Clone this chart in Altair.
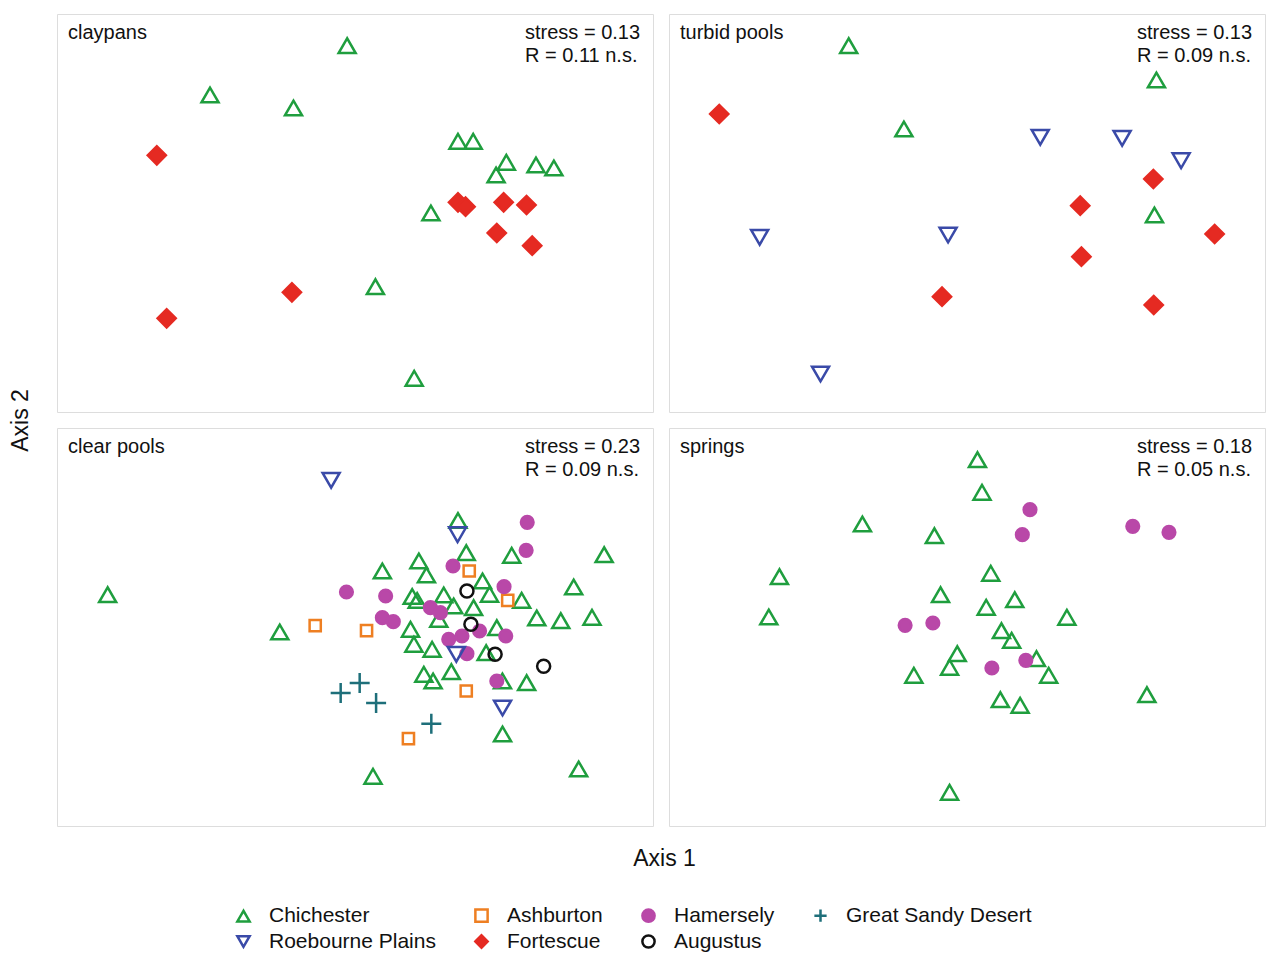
import altair as alt
import pandas as pd

groups = ["Chichester", "Ashburton", "Hamersely", "Great Sandy Desert",
          "Roebourne Plains", "Fortescue", "Augustus"]
stroke_colors = ["#1f9e3e", "#ee7f22", "#b948a8", "#1e6f7a", "#3a4aa8", "#e52a22", "#111111"]
fill_colors = ["transparent", "transparent", "#b948a8", "transparent",
               "transparent", "#e52a22", "transparent"]
plus_path = "M-1,0H1M0,-1V1"
shapes = ["triangle-up", "square", "circle", plus_path, "triangle-down", "diamond", "circle"]
marker_sizes = {"Chichester": 290, "Ashburton": 125, "Hamersely": 160,
                "Great Sandy Desert": 400, "Roebourne Plains": 290, "Fortescue": 330,
                "Augustus": 170}

panels = ["claypans", "turbid pools", "clear pools", "springs"]
stats = ["stress = 0.13\nR = 0.11 n.s.", "stress = 0.13\nR = 0.09 n.s.",
         "stress = 0.23\nR = 0.09 n.s.", "stress = 0.18\nR = 0.05 n.s."]

# claypans
clay_chi_x = [291.6, 153.8, 237.7, 403.0, 418.3, 451.6, 481.4, 499.4, 441.3, 375.8, 320.0, 359.0]
clay_chi_y = [31.7, 81.0, 94.0, 127.3, 127.3, 148.3, 151.0, 154.0, 161.0, 199.0, 272.7, 364.3]
clay_for_x = [100.3, 403.0, 410.6, 448.9, 471.9, 442.0, 477.6, 236.1, 110.2]
clay_for_y = [141.3, 188.3, 192.7, 188.3, 191.0, 219.0, 231.7, 278.3, 304.3]

# turbid pools
turb_chi_x = [180.6, 489.9, 236.1, 487.9]
turb_chi_y = [31.7, 66.0, 115.0, 201.0]
turb_roe_x = [373.1, 455.4, 514.7, 91.1, 280.5, 152.3]
turb_roe_y = [123.3, 124.3, 146.7, 223.3, 221.0, 360.0]
turb_for_x = [50.5, 486.8, 413.3, 548.4, 414.5, 274.4, 487.2]
turb_for_y = [100.0, 165.0, 191.7, 220.0, 242.7, 282.7, 291.0]

# clear pools
clear_chi_x = [50.9, 223.9, 549.9, 519.3, 537.7, 506.3, 482.2, 317.6, 524.3, 447.8,
               403.0, 411.3, 457.0, 363.7, 327.0, 371.3, 427.7, 434.7, 467.0, 357.0,
               362.0, 388.7, 398.7, 418.7, 383.7, 355.3, 442.0, 358.7, 377.0, 431.3,
               368.7, 378.0, 396.3, 447.7, 472.0]
clear_chi_y = [166.7, 204.0, 126.7, 159.0, 189.3, 192.7, 190.0, 348.3, 341.0, 306.0,
               92.5, 124.7, 127.3, 133.0, 143.0, 147.0, 153.0, 166.3, 172.3, 168.5,
               172.5, 167.0, 178.0, 179.7, 191.3, 201.3, 199.7, 216.3, 221.3, 224.7,
               246.3, 253.0, 243.7, 253.0, 254.7]
clear_roe_x = [275.5, 402.6, 401.3, 447.8]
clear_roe_y = [52.3, 106.7, 226.3, 280.0]
clear_ash_x = [259.5, 311.1, 414.3, 453.0, 411.3, 353.2]
clear_ash_y = [197.7, 202.7, 143.0, 172.3, 263.0, 310.7]
clear_ham_x = [290.9, 472.6, 471.5, 398.0, 449.3, 330.3, 375.3, 385.3, 327.0, 338.0,
               424.7, 451.0, 393.7, 407.0, 412.0, 442.0]
clear_ham_y = [164.0, 94.3, 122.3, 138.0, 158.7, 168.0, 179.7, 184.7, 189.7, 193.7,
               203.0, 208.0, 211.3, 208.0, 225.7, 253.0]
clear_aug_x = [412.0, 416.0, 440.3, 489.1]
clear_aug_y = [163.0, 196.3, 226.3, 238.3]
clear_gsd_x = [285.1, 304.2, 320.7, 376.2]
clear_gsd_y = [265.0, 255.0, 275.0, 295.7]

# springs
spr_chi_x = [310.0, 314.6, 194.4, 266.7, 111.0, 323.4, 272.9, 347.5, 318.8, 100.3, 399.9,
             334.1, 344.4, 289.7, 282.0, 369.3, 246.1, 381.6, 333.0, 352.9, 480.3, 282.0]
spr_chi_y = [31.7, 64.3, 96.0, 107.7, 148.7, 145.3, 166.7, 171.7, 179.3, 189.0, 189.3,
             202.7, 212.3, 225.7, 239.3, 230.7, 247.3, 247.3, 271.7, 277.3, 266.7, 364.3]
spr_ham_x = [362.8, 355.1, 466.1, 502.5, 237.3, 265.2, 324.5, 358.6]
spr_ham_y = [81.7, 106.7, 98.3, 104.3, 197.3, 195.0, 240.0, 232.3]

series = [
    ("claypans", "Chichester", clay_chi_x, clay_chi_y),
    ("claypans", "Fortescue", clay_for_x, clay_for_y),
    ("turbid pools", "Chichester", turb_chi_x, turb_chi_y),
    ("turbid pools", "Roebourne Plains", turb_roe_x, turb_roe_y),
    ("turbid pools", "Fortescue", turb_for_x, turb_for_y),
    ("clear pools", "Chichester", clear_chi_x, clear_chi_y),
    ("clear pools", "Roebourne Plains", clear_roe_x, clear_roe_y),
    ("clear pools", "Ashburton", clear_ash_x, clear_ash_y),
    ("clear pools", "Hamersely", clear_ham_x, clear_ham_y),
    ("clear pools", "Augustus", clear_aug_x, clear_aug_y),
    ("clear pools", "Great Sandy Desert", clear_gsd_x, clear_gsd_y),
    ("springs", "Chichester", spr_chi_x, spr_chi_y),
    ("springs", "Hamersely", spr_ham_x, spr_ham_y),
]

rows = []
for panel, grp, xs, ys in series:
    for xv, yv in zip(xs, ys):
        rows.append({"panel": panel, "group": grp, "ax1": xv, "ax2": 400 - yv})
df = pd.DataFrame(rows)

FONT = "Liberation Sans"
W, H = 596, 398

color_scale = alt.Scale(domain=groups, range=stroke_colors)
fill_scale = alt.Scale(domain=groups, range=fill_colors)
shape_scale = alt.Scale(domain=groups, range=shapes)

legend = alt.Legend(orient="none", legendX=176, legendY=891,
                    columns=4, direction="horizontal", padding=0,
                    labelFont=FONT, labelFontSize=21, labelColor="#111",
                    symbolSize=150, symbolStrokeWidth=2.5,
                    columnPadding=34, rowPadding=3, labelOffset=15,
                    labelLimit=300)


def make_panel(i, name):
    sub = df[df["panel"] == name]
    x_axis = alt.Axis(title=None, labels=False, ticks=False, domain=False, grid=False)
    y_axis = alt.Axis(title=None, labels=False, ticks=False, domain=False, grid=False)
    if i == 2:
        x_axis = alt.Axis(title="Axis 1", labels=False, ticks=False, domain=False, grid=False,
                          titleX=607, titleY=32, titleBaseline="middle",
                          titleFontSize=23, titleFontWeight="normal", titleFont=FONT,
                          titleColor="#111")
    if i == 0:
        y_axis = alt.Axis(title="Axis 2", labels=False, ticks=False, domain=False, grid=False,
                          titleY=406, titleX=-37, titleBaseline="middle", titleAngle=270,
                          titleFontSize=23, titleFontWeight="normal", titleFont=FONT,
                          titleColor="#111")
    layers = []
    for g in groups:
        gsub = sub[sub["group"] == g]
        if gsub.empty:
            continue
        layers.append(
            alt.Chart(gsub).mark_point(filled=False, strokeWidth=2.5, opacity=1,
                                       size=marker_sizes[g]).encode(
                x=alt.X("ax1:Q", scale=alt.Scale(domain=[0, 599], nice=False, zero=False),
                        axis=x_axis),
                y=alt.Y("ax2:Q", scale=alt.Scale(domain=[2, 400], nice=False, zero=False),
                        axis=y_axis),
                color=alt.Color("group:N", scale=color_scale, title=None, legend=legend),
                fill=alt.Fill("group:N", scale=fill_scale, title=None, legend=None),
                shape=alt.Shape("group:N", scale=shape_scale, title=None, legend=None),
            )
        )
    title_df = pd.DataFrame({"t": [name]})
    ttl = alt.Chart(title_df).mark_text(align="left", baseline="alphabetic", font=FONT,
                                        fontSize=20, color="#111").encode(
        x=alt.value(11), y=alt.value(25), text="t:N")
    st_df = pd.DataFrame({"t": [stats[i]]})
    st = alt.Chart(st_df).mark_text(align="left", baseline="alphabetic", font=FONT,
                                    fontSize=20, color="#111", lineBreak="\n",
                                    lineHeight=23).encode(
        x=alt.value(468), y=alt.value(25), text="t:N")
    return alt.layer(*layers, ttl, st).properties(width=W, height=H)


charts = [make_panel(i, p) for i, p in enumerate(panels)]
chart = alt.concat(*charts, columns=2, spacing=16, bounds="flush").resolve_scale(
    color="shared", fill="shared", shape="shared"
).properties(
    padding={"left": 0, "top": 5, "right": 0, "bottom": 0}
).configure_view(stroke="#6e6e6e", strokeWidth=1.5).configure(background="white")

chart.save("out.html", embed_options={"renderer": "svg", "actions": False})
